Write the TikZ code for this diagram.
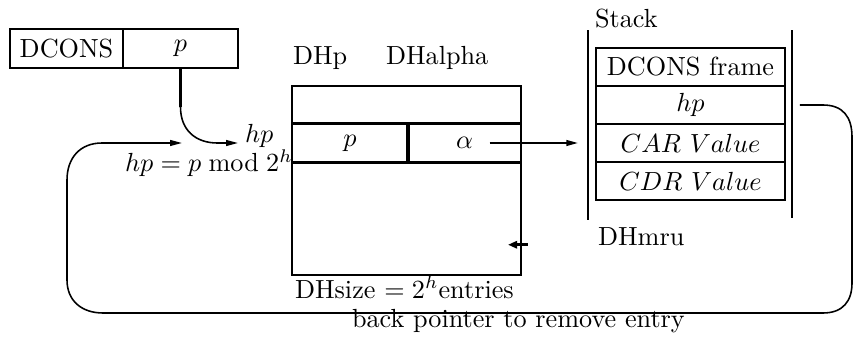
\documentclass[tikz,border=0pt]{standalone}
\usetikzlibrary{arrows.meta,calc}
\begin{document}
\begin{tikzpicture}[x=0.3817pt,y=-0.3817pt,
  box/.style={draw,line width=1pt,inner sep=0pt,outer sep=0pt,anchor=center},
  lbl/.style={inner sep=0pt,outer sep=0pt,anchor=base west},
  tip/.style={-{Triangle[length=4.5pt,width=2.2pt]}},
  conn/.style={line width=0.6pt},
  thickline/.style={line width=1.1pt},
]
\useasboundingbox (0,0) rectangle (854,339);

% DCONS cell
\node[box,minimum width=43.1pt,minimum height=14.9pt] (dc) at (66.5,48.5) {DCONS};
\node[box,minimum width=43.9pt,minimum height=14.9pt] (dp) at (180.5,48.5) {$p$};

% hash labels
\node[lbl] (hp) at (245,143) {$hp$};
\node[lbl] (hpf) at (125,172) {$hp = p \bmod 2^h$};

\coordinate (bend) at ($(dp.south)+(0,39)$);
\draw[thickline] (dp.south) -- (bend);
\draw[conn,tip] (bend) .. controls ($(bend)+(0,23)$) and ($(bend)+(15,36)$) .. ($(bend)+(37,36)$) -- ($(hp.base west)+(-7,0)$);

% hash table
\node[box,minimum width=87.4pt,minimum height=14.3pt] (t0) at (406.5,104.75) {};
\node[box,minimum width=44.3pt,minimum height=14.9pt] (tp) at (350,143) {$p$};
\node[box,minimum width=43.1pt,minimum height=14.9pt] (ta) at (464.5,143) {$\alpha$};
\node[box,minimum width=87.4pt,minimum height=42.9pt] (tb) at (406.5,218.75) {};
\draw[line width=1.6pt] (tp.north east) -- (tp.south east);

\node[lbl] (dhp) at (293,65) {DHp};
\node[lbl] (dha) at (386,65) {DHalpha};
\node[lbl] (dhs) at (295,298) {DHsize $= 2^h$entries};

% stack
\node[box,minimum width=72.1pt,minimum height=14.5pt] (s1) at (690.5,67) {DCONS frame};
\node[box,minimum width=72.1pt,minimum height=14.5pt] (s2) at (690.5,105) {$hp$};
\node[box,minimum width=72.1pt,minimum height=14.5pt] (s3) at (690.5,143) {$CAR\ Value$};
\node[box,minimum width=72.1pt,minimum height=14.5pt] (s4) at (690.5,181) {$CDR\ Value$};
\draw[line width=1pt] ($(s1.north west)+(-8,-18)$) -- ($(s4.south west)+(-8,20)$);
\draw[line width=1pt] ($(s1.north east)+(7,-18)$) -- ($(s4.south east)+(7,18)$);
\node[lbl] (stk) at (595,28) {Stack};
\node[lbl] (mru) at (598,246) {DHmru};

% alpha pointer
\draw[line width=0.75pt,tip] ($(ta.center)+(25,0)$) -- ($(s3.west)+(-18,0)$);

% short back arrow at DHmru
\draw[line width=1.2pt,-{Triangle[length=3.5pt,width=2.8pt]}] ($(tb.east)+(7,26)$) -- ($(tb.east)+(-13,26)$);

% back pointer loop
\coordinate (bstart) at ($(s2.east)+(15,0)$);
\coordinate (btip) at (182,143);
\draw[conn,tip] (bstart) -- (823,105) .. controls (843,105) and (852,117) .. (852,137)
  -- (852,283) .. controls (852,301) and (843,313) .. (823,313)
  -- (103,313) .. controls (82,313) and (67,301) .. (67,280)
  -- (67,180) .. controls (67,158) and (80,143) .. (102,143) -- (btip);
\node[lbl] (bpl) at (352,327) {back pointer to remove entry};
\end{tikzpicture}
\end{document}
